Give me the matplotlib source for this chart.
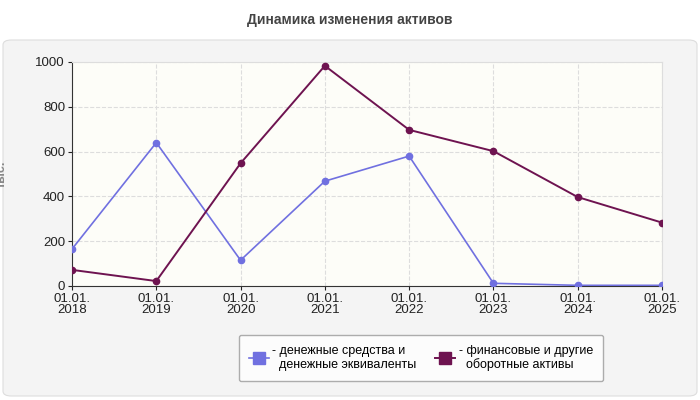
import matplotlib
matplotlib.use("Agg")
import matplotlib.pyplot as plt
from matplotlib.patches import FancyBboxPatch

dates = ["01.01.\n2018", "01.01.\n2019", "01.01.\n2020", "01.01.\n2021",
         "01.01.\n2022", "01.01.\n2023", "01.01.\n2024", "01.01.\n2025"]
cash = [165, 640, 115, 468, 580, 12, 3, 3]
other = [72, 22, 548, 983, 697, 602, 397, 283]
yticks = [0, 200, 400, 600, 800, 1000]

plt.rcParams['font.family'] = ['Liberation Sans', 'DejaVu Sans']
fig = plt.figure(figsize=(7, 4), dpi=100)
fig.patch.set_facecolor('white')
panel = FancyBboxPatch((3/700, 4/400), 694/700, 356/400, boxstyle="round,pad=0,rounding_size=0.012",
                       transform=fig.transFigure, facecolor='#f4f4f4', edgecolor='#dddddd', lw=0.8, zorder=-10)
fig.patches.append(panel)
fig.text(0.5, 1 - 20/400, "Динамика изменения активов", ha='center', va='center',
         fontsize=10, fontweight='bold', color='#444444')

ax = fig.add_axes([72/700, 1 - 286/400, 590/700, 224/400])
ax.set_zorder(5)
ax.set_facecolor('#fdfdf8')
x = list(range(len(dates)))
ax.plot(x, cash, color='#7070e0', lw=1.2, marker='o', ms=4.5, label='- денежные средства и\n  денежные эквиваленты', zorder=3)
ax.plot(x, other, color='#6e1350', lw=1.4, marker='o', ms=4.5, label='- финансовые и другие\n  оборотные активы', zorder=3)
ax.set_xlim(0, len(dates) - 1)
ax.set_ylim(0, 1000)
ax.set_xticks(x)
ax.set_xticklabels(dates, fontsize=9.5, linespacing=0.95)
ax.set_yticks(yticks)
ax.set_yticklabels([str(v) for v in yticks], fontsize=9.5)
ax.grid(True, color='#dddddd', ls='--', lw=0.8)
for s in ['top', 'right']:
    ax.spines[s].set_color('#dddddd')
for s in ['left', 'bottom']:
    ax.spines[s].set_color('#333333')
ax.tick_params(length=3, pad=2, colors='#222222')
ax.set_ylabel('тыс.', fontsize=9, color='#888888', fontweight='bold', labelpad=20)
leg = ax.legend(loc='center', bbox_to_anchor=(349/590, (286 - 358)/224), ncol=2, fontsize=9,
                frameon=True, fancybox=True, edgecolor='#999999', facecolor='white',
                handlelength=1.6, handleheight=0.9, borderpad=0.8, columnspacing=1.5, handletextpad=0.3)
for h in leg.legend_handles:
    h.set_marker('s')
    h.set_markersize(9)
    h.set_linestyle('-')
fig.savefig('out.png', dpi=100)
